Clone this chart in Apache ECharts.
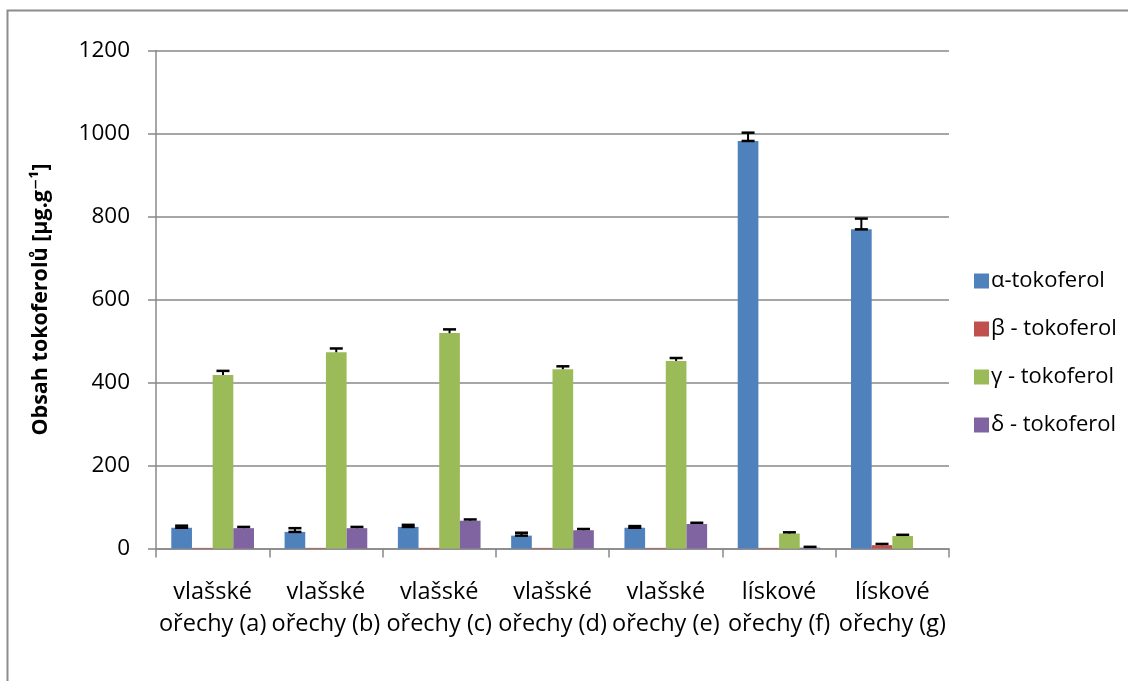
<!DOCTYPE html>
<html>
<head>
<meta charset="utf-8">
<script src="https://cdn.jsdelivr.net/npm/echarts@6/dist/echarts.min.js"></script>
<style>
  html, body { margin: 0; padding: 0; background: #fff; }
  #chart { width: 1128px; height: 681px; }
</style>
</head>
<body>
<div id="chart"></div>
<script>
// Tocopherol content per nut sample (μg/g) with standard deviations
const categories = [
  'vlašské\nořechy (a)', 'vlašské\nořechy (b)', 'vlašské\nořechy (c)',
  'vlašské\nořechy (d)', 'vlašské\nořechy (e)', 'lískové\nořechy (f)', 'lískové\nořechy (g)'
];
const seriesNames = ['α-tokoferol', 'β - tokoferol', 'γ - tokoferol', 'δ - tokoferol'];
const alpha    = [50, 40, 52, 31, 50, 982, 769];
const alphaErr = [5, 9, 5, 7, 4, 20, 26];
const beta     = [1.5, 1.5, 1.5, 1.5, 1.5, 1.5, 8];
const betaErr  = [0, 0, 0, 0, 0, 0, 3];
const gamma    = [418, 473, 519, 432, 452, 36, 30];
const gammaErr = [10, 9, 9, 7, 7, 3, 3];
const delta    = [49, 49, 67, 44, 59, 2, 0];
const deltaErr = [3, 3, 3, 3, 3, 2, 0];
const yTicks   = { min: 0, max: 1200, step: 200 };

const values = [alpha, beta, gamma, delta];
const errors = [alphaErr, betaErr, gammaErr, deltaErr];
const colors = ['#4F81BD', '#C0504D', '#9BBB59', '#8064A2'];
const FONT = '"Open Sans", "DejaVu Sans", sans-serif';
const CATEGORY_GAP = 0.27;
const GRID_COLOR = '#888888';

const chart = echarts.init(document.getElementById('chart'));

const barSeries = values.map((vals, k) => ({
  name: seriesNames[k],
  type: 'bar',
  data: vals,
  barGap: '0%',
  barCategoryGap: (CATEGORY_GAP * 100) + '%',
  itemStyle: { color: colors[k] },
  z: 2
}));

// Error whiskers drawn on top of the bars; the α series also marks the bar top
const errorSeries = errors.map((errs, k) => ({
  type: 'custom',
  name: 'err-' + k,
  z: 5,
  silent: true,
  encode: { x: 0, y: 1 },
  data: errs.map((e, i) => [i, values[k][i], e]),
  renderItem: function (params, api) {
    const err = api.value(2);
    if (!err) return null;
    const cat = api.value(0);
    const val = api.value(1);
    const band = api.size([1, 0])[0];
    const barW = band * (1 - CATEGORY_GAP) / 4;
    const x = api.coord([cat, val])[0] + (k - 1.5) * barW;
    const yLow = api.coord([cat, val])[1];
    const yHigh = api.coord([cat, val + err])[1];
    const capHalf = 6.5;
    const style = { stroke: '#000', lineWidth: 2.5, fill: null };
    const children = [
      { type: 'line', shape: { x1: x, y1: yLow, x2: x, y2: yHigh }, style: { stroke: '#000', lineWidth: 2 } },
      { type: 'line', shape: { x1: x - capHalf, y1: yHigh, x2: x + capHalf, y2: yHigh }, style: style }
    ];
    if (k === 0) {
      children.push({ type: 'line', shape: { x1: x - capHalf, y1: yLow, x2: x + capHalf, y2: yLow }, style: style });
    }
    return { type: 'group', children: children };
  }
}));

chart.setOption({
  animation: false,
  backgroundColor: '#fff',
  textStyle: { fontFamily: FONT },
  graphic: [{
    type: 'rect',
    shape: { x: 7.5, y: 10.5, width: 1400, height: 1000 },
    style: { fill: null, stroke: '#8c8c8c', lineWidth: 2 },
    z: 0
  }],
  grid: { left: 156, right: 179, top: 50.5, bottom: 132.5 },
  legend: {
    data: seriesNames,
    orient: 'vertical',
    left: 969,
    top: 265,
    itemWidth: 15,
    itemHeight: 15,
    itemGap: 26,
    icon: 'rect',
    textStyle: { fontFamily: FONT, fontSize: 22, color: '#000', padding: [0, 0, 0, -3] }
  },
  xAxis: {
    type: 'category',
    data: categories,
    axisLine: { show: true, lineStyle: { color: GRID_COLOR, width: 1.5 } },
    axisTick: { show: true, length: 9, lineStyle: { color: GRID_COLOR, width: 1.5 } },
    axisLabel: {
      interval: 0,
      margin: 28,
      fontFamily: FONT,
      fontSize: 23.5,
      lineHeight: 32,
      color: '#000'
    }
  },
  yAxis: {
    type: 'value',
    min: yTicks.min,
    max: yTicks.max,
    interval: yTicks.step,
    name: 'Obsah tokoferolů [μg.g⁻¹]',
    nameLocation: 'middle',
    nameGap: 104,
    nameTextStyle: { fontFamily: FONT, fontSize: 21.5, fontWeight: 'bold', color: '#000' },
    axisLine: { show: true, lineStyle: { color: GRID_COLOR, width: 1.5 } },
    axisTick: { show: true, length: 8, lineStyle: { color: GRID_COLOR, width: 1.5 } },
    axisLabel: {
      margin: 26, fontFamily: FONT, fontSize: 22.5, color: '#000',
      formatter: function (v) { return String(v); }
    },
    splitLine: { show: true, lineStyle: { color: GRID_COLOR, width: 1.5 } }
  },
  series: barSeries.concat(errorSeries)
});
</script>
</body>
</html>
